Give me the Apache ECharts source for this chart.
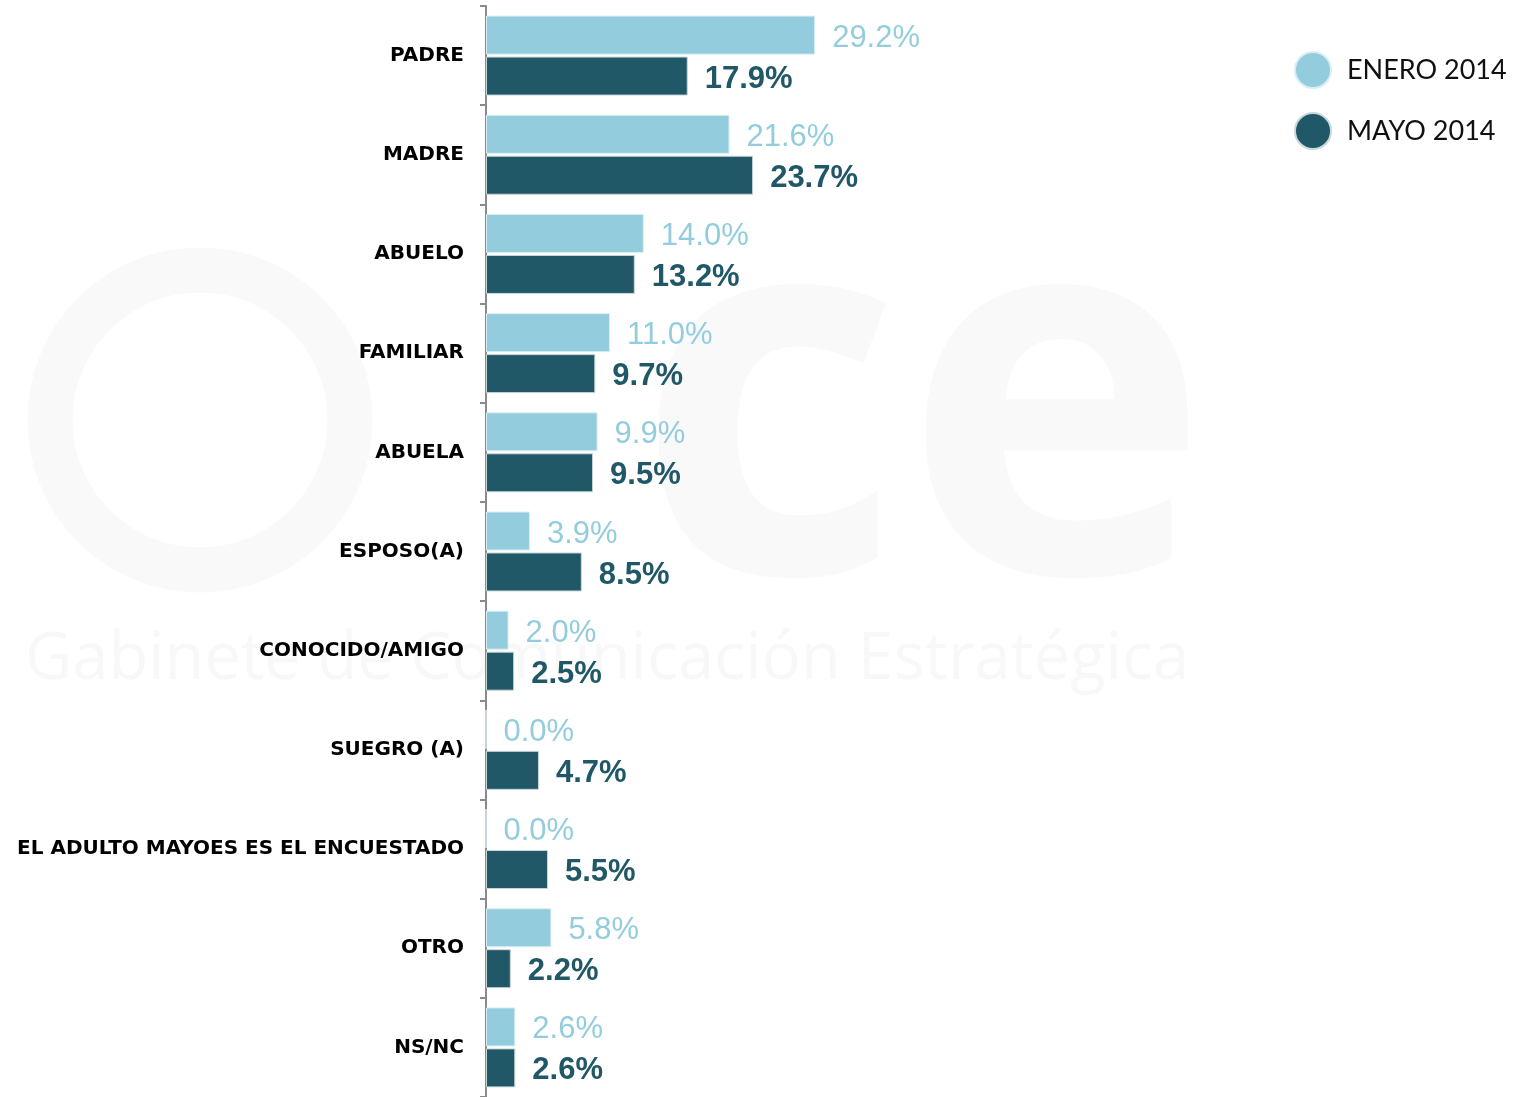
<!DOCTYPE html>
<html>
<head>
<meta charset="utf-8">
<script src="https://cdn.jsdelivr.net/npm/echarts@6/dist/echarts.min.js"></script>
<style>
html,body{margin:0;padding:0;background:#fff;}
#chart{width:1524px;height:1097px;}
</style>
</head>
<body>
<div id="chart"></div>
<script>
const categories = ['PADRE','MADRE','ABUELO','FAMILIAR','ABUELA','ESPOSO(A)','CONOCIDO/AMIGO','SUEGRO (A)','EL ADULTO MAYOES ES EL ENCUESTADO','OTRO','NS/NC'];
const seriesNames = ['ENERO 2014','MAYO 2014'];
const enero2014 = [29.2,21.6,14.0,11.0,9.9,3.9,2.0,0.0,0.0,5.8,2.6];
const mayo2014 = [17.9,23.7,13.2,9.7,9.5,8.5,2.5,4.7,5.5,2.2,2.6];

const LIGHT = '#93CDDD';
const DARK = '#215867';

const chart = echarts.init(document.getElementById('chart'));
chart.setOption({
  backgroundColor: '#fff',
  animation: false,
  graphic: [
    {type:'text', x: 25, y: 660, z: -10, silent: true,
     style:{text:'Gabinete de Comunicación Estratégica', fill:'#f8f8f8', verticalAlign:'middle',
            font:'65px "Open Sans", sans-serif'}},
    {type:'text', x: 635, y: 425, z: -10, silent: true,
     style:{text:'ce', fill:'#f9f9f9', verticalAlign:'middle',
            font:'bold 520px "Open Sans", sans-serif'}},
    {type:'circle', z: -10, silent: true, shape:{cx: 200, cy: 420, r: 150},
     style:{fill:'none', stroke:'#f9f9f9', lineWidth: 45}}
  ],
  legend: {
    orient: 'vertical',
    left: 1289,
    top: 46,
    itemWidth: 36,
    itemHeight: 36,
    itemGap: 23,
    icon: 'circle',
    data: seriesNames,
    textStyle: {fontFamily: 'Lato, "Open Sans", sans-serif', fontSize: 27, color: '#111', padding:[0,0,0,11]}
  },
  grid: {left: 486, top: 6, width: 1037, height: 1091, containLabel: false},
  xAxis: {
    type: 'value', min: 0, max: 92,
    show: false
  },
  yAxis: {
    type: 'category',
    data: categories,
    inverse: true,
    axisLine: {show: true, lineStyle: {color: '#8a8a8a', width: 2}},
    axisTick: {show: true, length: 6, lineStyle: {color: '#8a8a8a', width: 2}},
    axisLabel: {
      margin: 22,
      fontFamily: '"DejaVu Sans", sans-serif',
      fontWeight: 'bold',
      fontSize: 20,
      color: '#000',
      padding: [2, 0, 0, 0]
    }
  },
  series: [
    {
      name: seriesNames[0], type: 'bar', data: enero2014,
      barWidth: 39, barGap: '5%',
      itemStyle: {color: LIGHT, borderColor: '#d8eef4', borderWidth: 1},
      label: {show: true, position: 'right', distance: 17, offset: [0, 3],
        formatter: p => p.value.toFixed(1) + '%',
        fontFamily: '"Liberation Sans", sans-serif', fontSize: 31, color: LIGHT}
    },
    {
      name: seriesNames[1], type: 'bar', data: mayo2014,
      barWidth: 39, barGap: '5%',
      itemStyle: {color: DARK, borderColor: '#c9d6da', borderWidth: 1},
      label: {show: true, position: 'right', distance: 17, offset: [0, 3],
        formatter: p => p.value.toFixed(1) + '%',
        fontFamily: '"Liberation Sans", sans-serif', fontWeight: 'bold', fontSize: 31, color: DARK}
    }
  ]
});
</script>
</body>
</html>
